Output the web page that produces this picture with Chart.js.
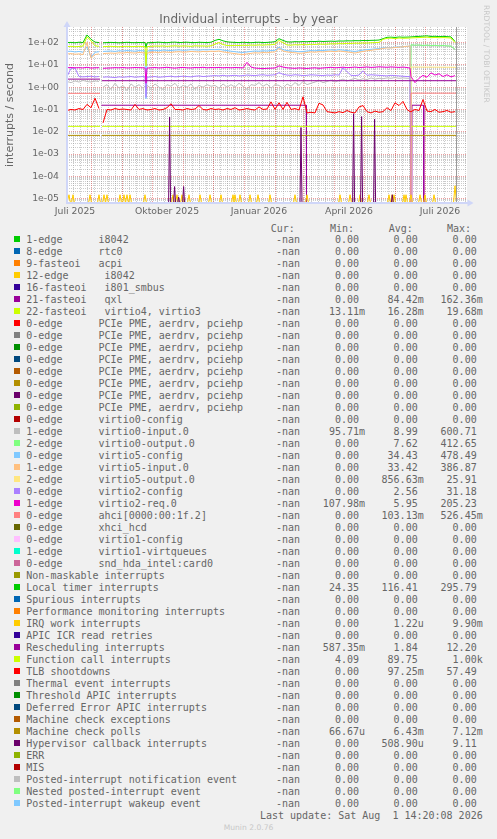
<!DOCTYPE html>
<html>
<head>
<meta charset="utf-8">
<title>Individual interrupts - by year</title>
<script src="https://cdn.jsdelivr.net/npm/chart.js@4.4.1/dist/chart.umd.min.js"></script>
<style>
  html, body { margin: 0; padding: 0; background: #F0F0F0; }
  #page { position: relative; width: 497px; height: 839px; background: #F0F0F0; overflow: hidden; font-family: 'DejaVu Sans', sans-serif; color: #666666; }
  #chart { position: absolute; left: 0; top: 0; }
  .t { position: absolute; white-space: pre; font-family: 'DejaVu Sans Mono', monospace; font-size: 10px; line-height: 12px; color: #666666; }
  .sw { position: absolute; width: 6px; height: 6px; }
  #wm { position: absolute; left: 482px; top: 5px; writing-mode: vertical-rl; font-family: 'DejaVu Sans', sans-serif; font-size: 7.6px; line-height: 9px; color: #C8C8C8; white-space: pre; }
  #ver { position: absolute; left: 0; width: 497px; top: 822px; text-align: center; font-family: 'DejaVu Sans', sans-serif; font-size: 7.6px; line-height: 11px; color: #C8C8C8; }
</style>
</head>
<body>
<div id="page">
  <canvas id="chart" width="497" height="222"></canvas>
  <div id="wm">RRDTOOL / TOBI OETIKER</div>
  <div id="legend"></div>
  <div id="ver">Munin 2.0.76</div>
</div>
<script>
// ---------------- DATA ----------------
const TITLE = 'Individual interrupts - by year';
const Y_TITLE = 'interrupts / second';
const START_UTC = Date.UTC(2025, 6, 8);          // day 0 of the x axis
const X_MAX_DAY = 400;
const LAST_UPDATE_DAY = 389.6;                    // Sat Aug 1 14:20 2026
const Y_MIN = 6.4e-6, Y_MAX = 500;

const X_LABELS = ['Juli 2025', 'Oktober 2025', 'Januar 2026', 'April 2026', 'Juli 2026'];
const X_LABEL_DATES = [[2025, 6, 16], [2025, 9, 16], [2026, 0, 16], [2026, 3, 16], [2026, 6, 16]];
const Y_TICK_VALUES = [1e-5, 1e-4, 1e-3, 1e-2, 1e-1, 1, 10, 100];
const Y_TICK_LABELS = ['1e-05', '1e-04', '1e-03', '1e-02', '1e-01', '1e+00', '1e+01', '1e+02'];

// shared sample days for the noisy series
const DAYS = [0,4,8,12,16,20,24,28,32,34,36,40,44,48,52,56,60,64,68,72,76,78,79,80,
  84,88,92,96,100,104,108,112,116,120,124,128,132,136,140,144,148,152,156,160,164,168,172,176,180,184,
  188,192,196,200,204,208,212,216,220,224,228,232,236,240,244,248,252,256,260,264,268,272,276,280,284,
  288,292,296,300,304,308,312,316,320,324,328,332,336,340,343,344,348,352,356,360,364,368,372,376,380,384,388];

const TIMER = [100,102,98,104,100,220,140,105,100, null,
  98,100,102,100,98,100,103,100,99,101,100, 100,60,98,
  100,102,104,101,99,103,105,100,102,104,101,100,103,102,100,104,
  125,140,120,108,
  104,102,100,103,101,99,102,104,100,102,105,110,
  150,125,
  108,106,110,108,111,109,113,111,115,112,114,116,114,118,117,120,119,122,121,124,123,126,127,130,
  150,172,175,170,178,174,176, 178,180,
  185,190,195,200,188,192,185,190,185,180,112];

const FUNCALL = [66,68,65,67,70,180,120,72,68, null,
  66,67,68,66,65,67,68,66,67,68,66, 67,9,66,
  68,70,69,71,68,70,72,69,71,70,68,72,70,71,69,72,
  85,100,82,74,
  73,75,74,76,75,77,76,78,77,79,80,84,
  125,100,
  78,77,80,79,82,80,84,82,86,84,85,88,87,90,89,92,91,94,93,96,95,98,100,102,
  140,155,158,150,160,156,158, 160,162,
  165,168,172,175,165,170,165,168,165,160,100];

const V5CONFIG = [40,41,38,40,37,65,22,37,39, null,
  40,41,42,40,43,42,44,43,41,44,43, 43,0.3,42,
  44,45,43,46,45,44,46,47,45,46,48,47,46,48,47,49,
  48,50,46,44,
  41,39,37,36,38,40,42,41,43,42,44,45,
  62,48,
  44,42,41,39,40,42,44,43,45,44,46,47,45,48,46,44,42,40,43,46,48,50,52,54,
  58,60,59,62,64,66,68, 68,0,
  0,0,0,0,0,0,0,0,0,0,0];

const V5INPUT = [31,32,30,31,29,100,20,29,31, null,
  32,33,34,33,35,34,36,35,34,36,35, 35,20,34,
  36,37,35,38,37,36,38,39,37,38,40,39,38,40,39,41,
  40,42,38,36,
  34,32,30,29,31,33,35,34,36,35,37,38,
  55,42,
  38,36,35,33,34,36,38,37,39,38,40,41,39,42,40,38,36,34,37,40,43,45,48,50,
  55,58,57,60,62,65,68, 70,0,
  0,0,0,0,0,0,0,0,0,0,0];

const V2REQ = [7.5,7.6,7.4,7.5,7.3,7.8,7.2,7.4,7.5, null,
  7.0,7.2,7.3,7.5,7.4,7.6,7.3,7.4,7.6,7.5,7.4, 7.3,1.5,7.2,
  7.4,7.6,7.3,7.5,7.8,7.4,7.2,7.5,7.7,7.4,7.3,7.6,7.5,7.8,7.4,7.6,
  7.5,7.7,7.4,7.6,
  7.4,7.6,7.5,7.3,13,8.0,7.2,7.0,6.8,7.0,7.1,7.3,
  9,8,
  7.4,7.2,7.0,7.3,7.1,6.9,7.2,7.4,7.0,7.3,7.5,7.8,7.4,7.6,7.9,7.5,7.7,8.0,7.6,7.8,8.1,7.7,7.9,8.2,
  8.0,7.8,8.1,7.9,7.7,8.0,7.6, 7.2,3.0,
  1.6,2.5,3.4,2.8,4.4,3.5,4.0,3.0,3.6,2.9,3.3];

const V2CONFIG = [3.0,7.0,7.2,3.0,2.9,3.0,3.1,2.9,3.0, null,
  2.8,2.9,2.8,2.7,2.9,2.8,2.9,3.0,2.8,2.9,3.0, 2.9,0.35,2.8,
  2.9,3.0,2.8,2.9,3.0,3.1,2.9,3.0,3.1,3.0,2.9,3.1,3.2,3.0,3.1,3.2,
  3.3,3.2,3.4,3.2,
  3.3,3.4,3.2,3.3,3.5,3.4,3.3,3.5,3.6,3.4,3.5,3.6,
  4.5,3.8,
  3.5,3.4,3.6,3.5,3.3,3.4,3.6,3.5,3.4,3.3,3.5,3.4,3.6,3.5,7.5,5.0,3.4,3.3,3.5,5.4,3.4,3.6,3.5,3.4,
  3.3,3.2,3.4,3.3,3.2,3.1,3.0, 3.0,0,
  0,0,0,0,0,0,0,0,0,0,0];

const V0INPUT = [1.8,1.6,1.9,1.7,2.0,1.8,1.7,1.9,1.8, null,
  1.0,1.3,0.8,1.5,0.9,1.2,0.7,1.4,1.0,1.3,0.9, 1.1,0.8,1.2,
  0.9,1.4,1.0,0.8,1.3,1.1,1.5,0.9,1.2,1.0,1.4,0.8,1.2,1.0,1.3,1.1,
  1.2,0.9,1.4,1.0,
  1.3,1.0,1.5,1.1,0.8,1.3,1.2,1.6,1.1,1.4,0.9,1.3,
  1.2,0.9,
  1.4,1.1,1.6,1.2,1.8,1.3,1.5,1.7,2.0,1.6,1.8,2.1,1.7,2.0,2.3,1.9,2.2,2.5,2.1,2.4,2.2,2.6,2.3,2.5,
  2.4,2.6,2.5,2.7,2.5,2.6,2.5, 2.5,78,
  74,76,72,75,70,73,71,73,70,68,48];

const TLB = [0.09,0.1,0.095,0.11,0.1,0.17,0.12,0.32,0.11, null,
  0.025,0.1,0.095,0.11,0.1,0.105,0.1,0.095,0.17,0.1,0.11, 0.1,0.1,0.095,
  0.1,0.11,0.095,0.1,0.12,0.18,0.1,0.1,0.095,0.11,0.1,0.105,0.15,0.1,0.095,0.11,
  0.1,0.105,0.095,0.11,
  0.1,0.12,0.095,0.1,0.11,0.1,0.095,0.13,0.1,0.105,0.22,0.1,
  0.2,0.1,
  0.21,0.1,0.11,0.095,0.37,0.07,0.075,0.07,0.19,0.16,0.08,0.075,0.07,0.08,0.072,0.09,0.075,0.07,0.13,0.15,0.08,0.07,0.085,0.075,
  0.08,0.12,0.09,0.2,0.15,0.23,0.1, 0.08,0.08,
  0.1,0.09,0.28,0.085,0.08,0.1,0.075,0.08,0.09,0.075,0.08];

// step-like series as [day, value] pairs (null = no data)
const QXL = [[34.3,0.155],[239.3,0.155],[239.5,0],[344.8,0],[345,0.155],[356.6,0.155],[356.8,0],[389.6,0]];
const FASTEOI22 = [[0,0.0175],[33,0.0175],[33.5,null],[35,0.0175],[389.6,0.0175]];
const MCPOLLS = [[0,0.0069],[33,0.0069],[33.5,null],[35,0.0069],[389.6,0.0069]];
const RESCHED = [[0,2.3],[33,2.3],[33.5,null],[35,1.95],[389.6,1.95]];
const AHCI = [[0,0.53],[33,0.53],[33.5,null],[343.8,0],[344,0.54],[389.6,0.54]];
const V5OUTPUT = [[0,0],[343.8,0],[344,8.0],[389.6,7.8]];
const V0OUTPUT = [[0,0],[343.8,0],[344,80],[348,76],[352,78],[356,74],[360,77],[364,73],[368,75],[372,72],[376,74],[380,71],[384,70],[388,50]];

// spike series
const IRQ_DAYS = [2,6,23,32,37,40,53,57,60,63,78,106,110,115,122,133,143,154,166,168,173,183,191,203,228,240,273,283,293,302,322,325,327,337,339,344,353,358,367,388];
const IRQ_VALS = [1.5e-5,1.5e-5,1.5e-5,1.5e-5,1.5e-5,1.5e-5,1.5e-5,1.5e-5,1.5e-5,1.5e-5,
  1.5e-5,1.5e-5,1.5e-5,1.5e-5,1.5e-5,1.5e-5,1.5e-5,1.5e-5,1.5e-5,1.5e-5,
  1.5e-5,1.5e-5,1.5e-5,1.5e-5,1.5e-5,1.5e-5,1.5e-5,1.5e-5,1.5e-5,1.5e-5,
  1.5e-5,1.5e-5,1.5e-5,1.5e-5,1.5e-5,1.5e-5,1.5e-5,1.5e-5,1.5e-5,3.8e-5];
const HV_DAYS = [102.6,107.6,111.6,116.6,234,286.6,294.6,307.6,325.3];
const HV_VALS = [0.045,3.5e-5,1.2e-5,3.5e-5,0.0155,0.064,0.048,0.037,1.5e-5];

// legend
const LEGEND_NAMES = [
  '1-edge      i8042', '8-edge      rtc0', '9-fasteoi   acpi', '12-edge      i8042',
  '16-fasteoi   i801_smbus', '21-fasteoi   qxl', '22-fasteoi   virtio4, virtio3',
  '0-edge      PCIe PME, aerdrv, pciehp', '0-edge      PCIe PME, aerdrv, pciehp',
  '0-edge      PCIe PME, aerdrv, pciehp', '0-edge      PCIe PME, aerdrv, pciehp',
  '0-edge      PCIe PME, aerdrv, pciehp', '0-edge      PCIe PME, aerdrv, pciehp',
  '0-edge      PCIe PME, aerdrv, pciehp', '0-edge      PCIe PME, aerdrv, pciehp',
  '0-edge      virtio0-config', '1-edge      virtio0-input.0', '2-edge      virtio0-output.0',
  '0-edge      virtio5-config', '1-edge      virtio5-input.0', '2-edge      virtio5-output.0',
  '0-edge      virtio2-config', '1-edge      virtio2-req.0', '0-edge      ahci[0000:00:1f.2]',
  '0-edge      xhci_hcd', '0-edge      virtio1-config', '1-edge      virtio1-virtqueues',
  '0-edge      snd_hda_intel:card0', 'Non-maskable interrupts', 'Local timer interrupts',
  'Spurious interrupts', 'Performance monitoring interrupts', 'IRQ work interrupts',
  'APIC ICR read retries', 'Rescheduling interrupts', 'Function call interrupts',
  'TLB shootdowns', 'Thermal event interrupts', 'Threshold APIC interrupts',
  'Deferred Error APIC interrupts', 'Machine check exceptions', 'Machine check polls',
  'Hypervisor callback interrupts', 'ERR', 'MIS', 'Posted-interrupt notification event',
  'Nested posted-interrupt event', 'Posted-interrupt wakeup event'];
const STAT_CUR = ['-nan','-nan','-nan','-nan','-nan','-nan','-nan','-nan',
  '-nan','-nan','-nan','-nan','-nan','-nan','-nan','-nan',
  '-nan','-nan','-nan','-nan','-nan','-nan','-nan','-nan',
  '-nan','-nan','-nan','-nan','-nan','-nan','-nan','-nan',
  '-nan','-nan','-nan','-nan','-nan','-nan','-nan','-nan',
  '-nan','-nan','-nan','-nan','-nan','-nan','-nan','-nan'];
const STAT_MIN = ['0.00','0.00','0.00','0.00','0.00','0.00','13.11m','0.00',
  '0.00','0.00','0.00','0.00','0.00','0.00','0.00','0.00',
  '95.71m','0.00','0.00','0.00','0.00','0.00','107.98m','0.00',
  '0.00','0.00','0.00','0.00','0.00','24.35','0.00','0.00',
  '0.00','0.00','587.35m','4.09','0.00','0.00','0.00','0.00',
  '0.00','66.67u','0.00','0.00','0.00','0.00','0.00','0.00'];
const STAT_AVG = ['0.00','0.00','0.00','0.00','0.00','84.42m','16.28m','0.00',
  '0.00','0.00','0.00','0.00','0.00','0.00','0.00','0.00',
  '8.99','7.62','34.43','33.42','856.63m','2.56','5.95','103.13m',
  '0.00','0.00','0.00','0.00','0.00','116.41','0.00','0.00',
  '1.22u','0.00','1.84','89.75','97.25m','0.00','0.00','0.00',
  '0.00','6.43m','508.90u','0.00','0.00','0.00','0.00','0.00'];
const STAT_MAX = ['0.00','0.00','0.00','0.00','0.00','162.36m','19.68m','0.00',
  '0.00','0.00','0.00','0.00','0.00','0.00','0.00','0.00',
  '600.71','412.65','478.49','386.87','25.91','31.18','205.23','526.45m',
  '0.00','0.00','0.00','0.00','0.00','295.79','0.00','0.00',
  '9.90m','0.00','12.20','1.00k','57.49','0.00','0.00','0.00',
  '0.00','7.12m','9.11','0.00','0.00','0.00','0.00','0.00'];
const LAST_UPDATE_TEXT = 'Last update: Sat Aug  1 14:20:08 2026';

// ---------------- STYLE ----------------
const PALETTE = ['#00CC00','#0066B3','#FF8000','#FFCC00','#330099','#990099','#CCFF00','#FF0000','#808080',
  '#008F00','#00487D','#B35A00','#B38F00','#6B006B','#8FB300','#B30000','#BEBEBE','#80FF80','#80C9FF',
  '#FFC080','#FFE680','#AA80FF','#EE00CC','#FF8080','#666600','#FFBFFF','#00FFCC','#CC6699','#999900'];
const FONT_COLOR = '#666666';
const GRID_MINOR = 'rgba(143,143,143,0.45)';
const GRID_MAJOR = 'rgba(222,80,80,0.55)';
const AXIS_COLOR = '#CFD6F8';
const NOW_COLOR = '#999999';

// ---------------- BUILD ----------------
const dayOf = (y, m, d) => (Date.UTC(y, m, d) - START_UTC) / 86400000;
const X_LABEL_DAYS = X_LABEL_DATES.map(a => dayOf(a[0], a[1], a[2]));
const MONTH_DAYS = [];
for (let y = 2025, m = 7; y < 2027; m++) { if (m > 11) { m = 0; y++; } const d = dayOf(y, m, 1); if (d > X_MAX_DAY) break; MONTH_DAYS.push(d); }
const WEEK_DAYS = [];
for (let d = dayOf(2025, 6, 14); d < X_MAX_DAY; d += 7) WEEK_DAYS.push(d);
const MINOR_Y = [];
for (let e = -6; e <= 2; e++) for (let k = 2; k <= 9; k++) { const v = k * Math.pow(10, e); if (v > Y_MIN && v < Y_MAX) MINOR_Y.push(v); }

const toLog = v => (v === null ? null : (v === 0 ? Y_MIN : v));
const fromGrid = vals => DAYS.map((d, i) => ({ x: d, y: toLog(vals[i]) }));
const fromPairs = pairs => pairs.map(p => ({ x: p[0], y: toLog(p[1]) }));
const fromSpikes = (days, vals, halfWidth) => {
  const pts = [{ x: 0, y: Y_MIN }];
  days.forEach((d, i) => { pts.push({ x: d - halfWidth, y: Y_MIN }, { x: d, y: vals[i] }, { x: d + halfWidth, y: Y_MIN }); });
  pts.push({ x: LAST_UPDATE_DAY, y: Y_MIN });
  return pts;
};

const SERIES = [
  { row: 5, data: fromPairs(QXL) },
  { row: 6, data: fromPairs(FASTEOI22) },
  { row: 16, data: fromGrid(V0INPUT) },
  { row: 17, data: fromPairs(V0OUTPUT) },
  { row: 18, data: fromGrid(V5CONFIG) },
  { row: 19, data: fromGrid(V5INPUT) },
  { row: 20, data: fromPairs(V5OUTPUT) },
  { row: 21, data: fromGrid(V2CONFIG) },
  { row: 22, data: fromGrid(V2REQ) },
  { row: 23, data: fromPairs(AHCI) },
  { row: 29, data: fromGrid(TIMER) },
  { row: 32, data: fromSpikes(IRQ_DAYS, IRQ_VALS, 1.5) },
  { row: 34, data: fromPairs(RESCHED) },
  { row: 35, data: fromGrid(FUNCALL) },
  { row: 36, data: fromGrid(TLB) },
  { row: 41, data: fromPairs(MCPOLLS) },
  { row: 42, data: fromSpikes(HV_DAYS, HV_VALS, 1) }
];

const datasets = SERIES.map(s => ({
  label: LEGEND_NAMES[s.row],
  data: s.data,
  borderColor: PALETTE[s.row % PALETTE.length],
  backgroundColor: PALETTE[s.row % PALETTE.length],
  borderWidth: 1,
  pointRadius: 0,
  fill: false,
  tension: 0,
  spanGaps: false,
  order: -s.row
}));

const rrdPlugin = {
  id: 'rrdFrame',
  beforeDraw(chart) {
    const { ctx, chartArea: a } = chart;
    ctx.save();
    ctx.fillStyle = '#FFFFFF';
    ctx.fillRect(a.left, a.top, a.right - a.left, a.bottom - a.top);
    ctx.restore();
  },
  beforeDatasetsDraw(chart) {
    const { ctx, chartArea: a, scales } = chart;
    const xs = scales.x, ys = scales.y;
    ctx.save();
    ctx.lineWidth = 1;
    ctx.setLineDash([1, 1]);
    const vline = d => { const px = Math.floor(xs.getPixelForValue(d)) + 0.5; if (px < a.left || px > a.right) return; ctx.beginPath(); ctx.moveTo(px, a.top); ctx.lineTo(px, a.bottom); ctx.stroke(); };
    const hline = v => { const py = Math.floor(ys.getPixelForValue(v)) + 0.5; if (py < a.top || py > a.bottom) return; ctx.beginPath(); ctx.moveTo(a.left, py); ctx.lineTo(a.right, py); ctx.stroke(); };
    ctx.strokeStyle = GRID_MINOR;
    WEEK_DAYS.forEach(vline);
    MINOR_Y.forEach(hline);
    ctx.strokeStyle = GRID_MAJOR;
    MONTH_DAYS.forEach(vline);
    Y_TICK_VALUES.forEach(hline);
    ctx.restore();
  },
  afterDatasetsDraw(chart) {
    const { ctx, chartArea: a, scales } = chart;
    ctx.save();
    const px = Math.floor(scales.x.getPixelForValue(LAST_UPDATE_DAY)) + 0.5;
    ctx.strokeStyle = NOW_COLOR; ctx.lineWidth = 1;
    ctx.beginPath(); ctx.moveTo(px, a.top); ctx.lineTo(px, a.bottom); ctx.stroke();
    ctx.fillStyle = AXIS_COLOR;
    ctx.fillRect(a.left - 1, a.bottom - 1, a.right - a.left + 3, 2);
    ctx.fillRect(a.left - 1, a.top - 2, 2, a.bottom - a.top + 3);
    ctx.beginPath(); ctx.moveTo(a.right + 0.5, a.bottom - 3.5); ctx.lineTo(a.right + 6.5, a.bottom); ctx.lineTo(a.right + 0.5, a.bottom + 3.5); ctx.closePath(); ctx.fill();
    ctx.beginPath(); ctx.moveTo(a.left - 3.5, a.top); ctx.lineTo(a.left, a.top - 6); ctx.lineTo(a.left + 3.5, a.top); ctx.closePath(); ctx.fill();
    ctx.restore();
  }
};

Chart.defaults.font.family = "'DejaVu Sans', sans-serif";
Chart.defaults.color = FONT_COLOR;

new Chart(document.getElementById('chart'), {
  type: 'line',
  data: { datasets },
  options: {
    responsive: false,
    animation: false,
    devicePixelRatio: 1,
    events: [],
    layout: { padding: { left: 2, right: 2, top: 0, bottom: 0 } },
    plugins: {
      legend: { display: false },
      tooltip: { enabled: false },
      title: {
        display: true, text: TITLE, color: FONT_COLOR,
        font: { size: 12, weight: 'normal' },
        padding: { top: 12.3, bottom: 0.3 }
      }
    },
    scales: {
      x: {
        type: 'linear', min: 0, max: X_MAX_DAY, bounds: 'data',
        grid: { display: false, drawTicks: false },
        border: { display: false },
        afterBuildTicks: s => { s.ticks = X_LABEL_DAYS.map(v => ({ value: v })); },
        ticks: { autoSkip: false, maxRotation: 0, color: FONT_COLOR, font: { size: 9.3 }, padding: 3.5,
          callback: (v, i) => X_LABELS[i] },
        afterFit: s => { s.height = 19; }
      },
      y: {
        type: 'logarithmic', min: Y_MIN, max: Y_MAX, bounds: 'data',
        grid: { display: false, drawTicks: false },
        border: { display: false },
        afterBuildTicks: s => { s.ticks = Y_TICK_VALUES.map(v => ({ value: v })); },
        ticks: { autoSkip: false, color: FONT_COLOR, font: { size: 9.3 }, padding: 8,
          callback: (v, i) => Y_TICK_LABELS[i] },
        title: { display: true, text: Y_TITLE, color: FONT_COLOR, font: { size: 11 }, padding: { top: 1.4, bottom: 0 } },
        afterFit: s => { s.width = 65; }
      },
      yRight: {
        type: 'linear', position: 'right', display: true,
        grid: { display: false, drawTicks: false },
        border: { display: false },
        ticks: { display: false },
        afterFit: s => { s.width = 28; }
      }
    }
  },
  plugins: [rrdPlugin]
});

// ---------------- LEGEND (text) ----------------
const legendEl = document.getElementById('legend');
const ROW0_TOP = 234.3, ROW_H = 12, PAGE_W = 497;
function addText(txt, style) {
  const d = document.createElement('div');
  d.className = 't';
  d.textContent = txt;
  Object.assign(d.style, style);
  legendEl.appendChild(d);
}
const withUnit = v => (/[a-z]$/i.test(v) ? v : v + ' ');
const HEADER_TOP = ROW0_TOP - ROW_H + 1;
addText('Cur:', { left: '270.7px', top: HEADER_TOP + 'px' });
addText('Min:', { left: '330px', top: HEADER_TOP + 'px' });
addText('Avg:', { left: '388.7px', top: HEADER_TOP + 'px' });
addText('Max:', { left: '447px', top: HEADER_TOP + 'px' });
LEGEND_NAMES.forEach((name, i) => {
  const top = ROW0_TOP + i * ROW_H;
  const sw = document.createElement('div');
  sw.className = 'sw';
  sw.style.left = '14px';
  sw.style.top = (top + 2) + 'px';
  sw.style.background = PALETTE[i % PALETTE.length];
  legendEl.appendChild(sw);
  addText(name, { left: '26.3px', top: top + 'px' });
  addText(STAT_CUR[i], { right: (PAGE_W - 300) + 'px', top: top + 'px' });
  addText(withUnit(STAT_MIN[i]), { right: (PAGE_W - 365) + 'px', top: top + 'px' });
  addText(withUnit(STAT_AVG[i]), { right: (PAGE_W - 423.7) + 'px', top: top + 'px' });
  addText(withUnit(STAT_MAX[i]), { right: (PAGE_W - 482.7) + 'px', top: top + 'px' });
});
addText(LAST_UPDATE_TEXT, { right: (PAGE_W - 482.7) + 'px', top: (ROW0_TOP + LEGEND_NAMES.length * ROW_H) + 'px' });
</script>
</body>
</html>
